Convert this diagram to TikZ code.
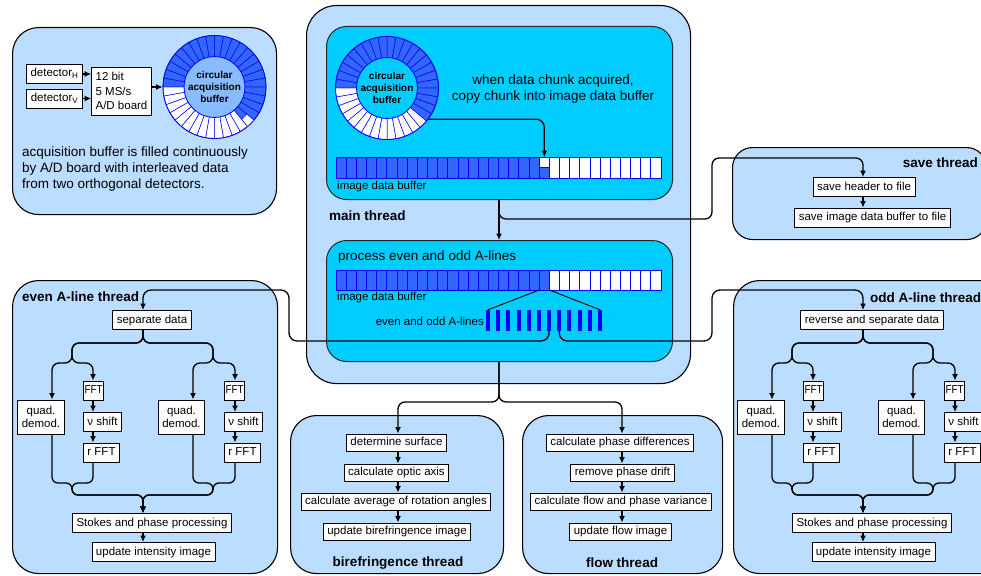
\documentclass[tikz,border=0pt]{standalone}
\usepackage{fontspec}
\usepackage{graphicx}
\setmainfont{Liberation Sans}
\usetikzlibrary{arrows.meta}
\definecolor{panelblue}{HTML}{BBDDFF}
\definecolor{cyanbox}{HTML}{00CCFF}
\definecolor{segblue}{HTML}{3366FF}
\definecolor{pureblue}{HTML}{0000FF}
\definecolor{innerblue}{HTML}{88BBFF}
\tikzset{
  panel/.style={draw=black, line width=1.1pt, fill=panelblue, rounded corners=26pt, inner sep=0pt, anchor=north west},
  cpanel/.style={draw=black!85, line width=1pt, fill=cyanbox, rounded corners=20pt, inner sep=0pt, anchor=north west},
  boxbase/.style={draw=black, line width=0.9pt, fill=white, inner xsep=4pt, inner ysep=1pt, font=\fontsize{11.5}{13}\selectfont},
  stepbox/.style={boxbase, minimum height=19pt, text height=8.6pt, text depth=2.6pt},
  smallbox/.style={boxbase, minimum height=17pt, text height=8.6pt, text depth=2.6pt},
  conn/.style={line width=1.3pt, rounded corners=7pt},
  arr/.style={conn, -{Latex[length=6.5pt,width=6pt]}},
  ttl/.style={font=\fontsize{13.5}{16}\selectfont\bfseries, inner sep=0pt},
  txt/.style={font=\fontsize{13.5}{16}\selectfont, inner sep=0pt},
  lbl/.style={font=\fontsize{11.5}{13}\selectfont, inner sep=0pt},
  bar/.style={fill=pureblue, inner sep=0pt, minimum width=4pt, minimum height=21pt},
  cell/.style={draw=pureblue, line width=0.7pt},
  seg/.style={draw=pureblue, line width=0.5pt},
}
% ring buffer: #1 name, #2 centre, #3 inner fill, #4 first white segment
\newcommand\ringbuffer[4]{%
\begin{scope}[shift={#2}]
\foreach \i in {0,...,35}{%
  \pgfmathsetmacro\a{\i*10}%
  \ifnum\i<#4 \def\sc{segblue}\else\ifnum\i<18 \def\sc{white}\else\def\sc{segblue}\fi\fi
  \path[seg, fill=\sc] (\a:30) -- (\a:51.5) arc[start angle=\a, delta angle=10, radius=51.5] -- ({\a+10}:30) arc[start angle=\a+10, delta angle=-10, radius=30] -- cycle;
}
\end{scope}
\node[circle, draw=pureblue, line width=0.8pt, minimum size=103pt, inner sep=0pt] (#1) at #2 {};
\node[circle, draw=pureblue, line width=0.8pt, fill=#3, minimum size=60pt, inner sep=0pt, font=\fontsize{10}{11.7}\selectfont\bfseries, align=center] (#1in) at #2 {circular\\acquisition\\buffer};
}
% image data buffer: #1 name, #2 top y, #3 height, #4 number of blue cells
\newcommand\imgbuffer[4]{%
\node[inner sep=0pt, minimum width=325pt, minimum height=#3pt, anchor=north west] (#1) at (336,#2) {};
\foreach \i in {0,...,31}{%
  \ifnum\i<#4 \def\sc{segblue}\else\def\sc{white}\fi
  \path[cell, fill=\sc] ({336+\i*10.156},#2) rectangle ++(10.156,#3);
}}
% A-line thread: #1 prefix, #2 xshift, #3 first step text
\newcommand\athread[3]{%
\begin{scope}[xshift=#2]
\coordinate (#1ax) at (143,0);
\coordinate (#1qa) at (52,0);
\coordinate (#1fa) at (93,0);
\coordinate (#1qb) at (193,0);
\coordinate (#1fb) at (235,0);
\node[stepbox] (#1sep) at (152,320) {#3};
\node[boxbase, align=center, minimum width=46pt, minimum height=34pt] (#1qda) at (41,417) {quad.\\demod.};
\node[stepbox, anchor=west, inner xsep=1.2pt] (#1ffa) at (83,390.5) {\scalebox{0.85}[1]{FFT}};
\node[stepbox, anchor=west] (#1vsa) at (83,422) {ν shift};
\node[stepbox, anchor=west] (#1rfa) at (83,452.5) {r FFT};
\node[boxbase, align=center, minimum width=43pt, minimum height=34pt] (#1qdb) at (181.5,417) {quad.\\demod.};
\node[stepbox, anchor=west, inner xsep=1.2pt] (#1ffb) at (224,390.5) {\scalebox{0.85}[1]{FFT}};
\node[stepbox, anchor=west] (#1vsb) at (224,422) {ν shift};
\node[stepbox, anchor=west] (#1rfb) at (224,452.5) {r FFT};
\node[stepbox] (#1sto) at (152,523) {Stokes and phase processing};
\node[stepbox] (#1upd) at (153.5,552) {update intensity image};
\draw[arr] (#1sep.south -| #1ax) |- (72,343) |- (52,363) -- (#1qda.north -| #1qa);
\draw[arr] (#1sep.south -| #1ax) |- (72,343) |- (93,363) -- (#1ffa.north -| #1fa);
\draw[arr] (#1sep.south -| #1ax) |- (213,343) |- (193,363) -- (#1qdb.north -| #1qb);
\draw[arr] (#1sep.south -| #1ax) |- (213,343) |- (235,363) -- (#1ffb.north -| #1fb);
\draw[arr] (#1ffa.south -| #1fa) -- (#1vsa.north -| #1fa);
\draw[arr] (#1vsa.south -| #1fa) -- (#1rfa.north -| #1fa);
\draw[arr] (#1ffb.south -| #1fb) -- (#1vsb.north -| #1fb);
\draw[arr] (#1vsb.south -| #1fb) -- (#1rfb.north -| #1fb);
\draw[arr, rounded corners=6pt] (#1qda.south -| #1qa) |- (72,483) |- (143,495) -- (#1sto.north -| #1ax);
\draw[arr, rounded corners=6pt] (#1rfa.south -| #1fa) |- (72,483) |- (143,495) -- (#1sto.north -| #1ax);
\draw[arr, rounded corners=6pt] (#1qdb.south -| #1qb) |- (213,483) |- (143,495) -- (#1sto.north -| #1ax);
\draw[arr, rounded corners=6pt] (#1rfb.south -| #1fb) |- (213,483) |- (143,495) -- (#1sto.north -| #1ax);
\draw[arr] (#1sto.south -| #1ax) -- (#1upd.north -| #1ax);
\end{scope}}

\begin{document}
\begin{tikzpicture}[x=1pt,y=-1pt]
\useasboundingbox (0,0) rectangle (981,575);
\clip (0,0) rectangle (981,575);
\fill[white] (0,0) rectangle (981,575);

% ---------- panels ----------
\node[panel, minimum width=264pt, minimum height=187pt] (acq) at (12,27) {};
\node[panel, rounded corners=30pt, minimum width=384pt, minimum height=378pt] (mainp) at (306,5) {};
\node[cpanel, minimum width=346pt, minimum height=173pt] (cyan1) at (326,26) {};
\node[cpanel, minimum width=346pt, minimum height=121pt] (cyan2) at (326,240) {};
\node[panel, rounded corners=20pt, minimum width=254pt, minimum height=92pt] (savep) at (732,147) {};
\node[panel, minimum width=265pt, minimum height=293pt] (evenp) at (12,280) {};
\node[panel, minimum width=280pt, minimum height=293pt] (oddp) at (733,280) {};
\node[panel, minimum width=213pt, minimum height=158pt] (birep) at (290,415) {};
\node[panel, minimum width=200pt, minimum height=158pt] (flowp) at (522,415) {};

% ---------- acquisition ----------
\ringbuffer{circ1}{(214.5,87)}{innerblue}{5}
\path[seg, fill=white, shift={(214.5,87)}] (40:42) -- (40:51.5) arc[start angle=40, delta angle=10, radius=51.5] -- (50:42) arc[start angle=50, delta angle=-10, radius=42] -- cycle;
\node[stepbox] (detH) at (54.5,74) {detector\textsubscript{H}};
\node[stepbox] (detV) at (54.5,98.5) {detector\textsubscript{V}};
\node[boxbase, align=left, minimum width=59pt, minimum height=48pt, font=\fontsize{11.5}{14.5}\selectfont] (adc) at (121.5,91) {12 bit\\5 MS/s\\A/D board};
\draw[arr] (detH.east) -- (detH.east -| adc.west);
\draw[arr] (detV.east) -- (detV.east -| adc.west);
\draw[arr] (adc.east |- circ1.west) -- (circ1.west);
\node[txt, align=left, anchor=west] (acqtxt) at (22,169.5) {acquisition buffer is filled continuously\\by A/D board with interleaved data\\from two orthogonal detectors.};

% ---------- main thread ----------
\ringbuffer{circ2}{(387,88)}{cyanbox}{4}
\node[txt, align=center] (whentxt) at (553,89) {when data chunk acquired,\\copy chunk into image data buffer};
\imgbuffer{buf1}{157}{21}{20}
\path[cell, fill=segblue] ({336+20*10.156},167) rectangle ++(10.156,11);
\coordinate (c21t) at (544.3,157);
\node[lbl, anchor=west] (buf1lbl) at (337,186.5) {image data buffer};
\draw[arr, rounded corners=8pt] (circ2.-37) -| (c21t);
\node[ttl, anchor=west] (maintl) at (329,216) {main thread};

\node[txt, anchor=west] (proctxt) at (338,257) {process even and odd A-lines};
\imgbuffer{buf2}{270}{20}{21}
\node[lbl, anchor=west] (buf2lbl) at (337,298) {image data buffer};
\foreach \i in {1,...,12}{\node[bar] (bar\i) at ({488+(\i-1)*10.18},320.5) {};}
\node[lbl, anchor=east] (eolbl) at (484,321) {even and odd A-lines};
\coordinate (c21bl) at (539.2,290);
\coordinate (c21br) at (549.4,290);
\draw[line width=0.9pt] (c21bl) -- (bar1.north);
\draw[line width=0.9pt] (c21br) -- (bar12.north);

% ---------- save thread ----------
\node[ttl, anchor=east] (savetl) at (978,163) {save thread};
\node[stepbox] (svh) at (864,187) {save header to file};
\node[stepbox] (svi) at (872.5,217.5) {save image data buffer to file};
\coordinate (sx) at (863,0);
\draw[arr] (svh.south -| sx) -- (svi.north -| sx);

% ---------- main connectors ----------
\coordinate (mx) at (499,0);
\draw[arr] (cyan1.south -| mx) -- (cyan2.north -| mx);
\draw[arr] (cyan1.south -| mx) |- (712,219) |- (863,158) -- (svh.north -| sx);

% ---------- A-line threads ----------
\node[ttl, anchor=west] (eventl) at (22,297) {even A-line thread};
\node[ttl, anchor=west] (oddtl) at (870,298) {odd A-line thread};
\athread{e}{0}{separate data}
\athread{o}{720}{reverse and separate data}
\draw[arr, rounded corners=8pt] (bar7.south) |- (289,341) |- (143,290) -- (esep.north -| eax);
\draw[arr, rounded corners=8pt] (bar8.south) |- (712,341) |- (863,290) -- (osep.north -| oax);

% ---------- birefringence thread ----------
\coordinate (bx) at (398,0);
\node[smallbox] (ds) at (396.5,442.5) {determine surface};
\node[smallbox] (coa) at (396.5,472.5) {calculate optic axis};
\node[smallbox] (car) at (396,501.5) {calculate average of rotation angles};
\node[smallbox] (ubi) at (397,531.5) {update birefringence image};
\draw[arr] (ds.south -| bx) -- (coa.north -| bx);
\draw[arr] (coa.south -| bx) -- (car.north -| bx);
\draw[arr] (car.south -| bx) -- (ubi.north -| bx);
\node[ttl] (biretl) at (398,563) {birefringence thread};

% ---------- flow thread ----------
\coordinate (fx) at (622,0);
\node[smallbox] (cpd) at (620,442.5) {calculate phase differences};
\node[smallbox] (rpd) at (622.5,472.5) {remove phase drift};
\node[smallbox] (cfp) at (621,501.5) {calculate flow and phase variance};
\node[smallbox] (ufi) at (620.5,531.5) {update flow image};
\draw[arr] (cpd.south -| fx) -- (rpd.north -| fx);
\draw[arr] (rpd.south -| fx) -- (cfp.north -| fx);
\draw[arr] (cfp.south -| fx) -- (ufi.north -| fx);
\node[ttl] (flowtl) at (622,563) {flow thread};

\draw[arr] (cyan2.south -| mx) |- (398,402) -- (ds.north -| bx);
\draw[arr] (cyan2.south -| mx) |- (622,402) -- (cpd.north -| fx);
\end{tikzpicture}
\end{document}
